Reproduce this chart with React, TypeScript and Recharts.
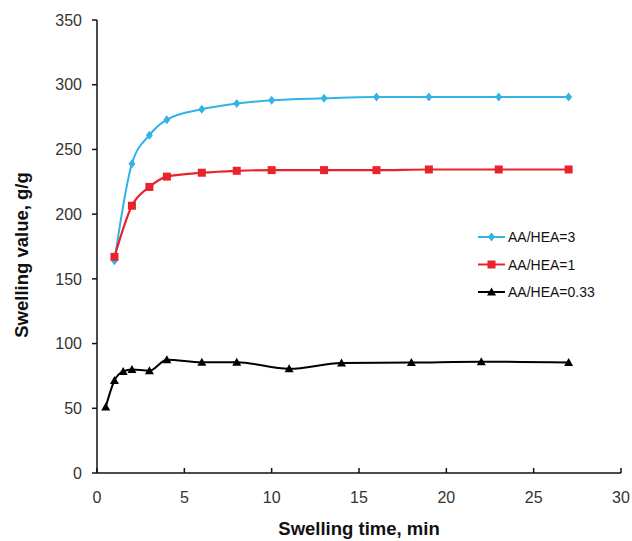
import React from 'react';
import { LineChart, Line, XAxis, YAxis } from 'recharts';

// time points (min) for the two upper series
const timeA = [1, 2, 3, 4, 6, 8, 10, 13, 16, 19, 23, 27];
const ratio3 = [164, 239, 261, 273, 281, 285.5, 288, 289.5, 290.5, 290.5, 290.5, 290.5];
const ratio1 = [167, 206.5, 221, 229, 232, 233.5, 234, 234, 234, 234.5, 234.5, 234.5];

// the 0.33 series was sampled at other times
const timeB = [0.5, 1, 1.5, 2, 3, 4, 6, 8, 11, 14, 18, 22, 27];
const ratio033 = [51, 71.5, 78.5, 80, 79, 87.5, 85.5, 85.5, 80.5, 85, 85.3, 86, 85.3];

const xTicks = [0, 5, 10, 15, 20, 25, 30];
const yTicks = [0, 50, 100, 150, 200, 250, 300, 350];

const seriesNames = ['AA/HEA=3', 'AA/HEA=1', 'AA/HEA=0.33'];

const BLUE = '#31b3e8';
const RED = '#e8232b';
const BLACK = '#000000';
const FONT = '"Liberation Sans", Arial, sans-serif';

const data3 = timeA.map((t, i) => ({ t, v: ratio3[i] }));
const data1 = timeA.map((t, i) => ({ t, v: ratio1[i] }));
const data033 = timeB.map((t, i) => ({ t, v: ratio033[i] }));

const Marker = ({ kind, cx, cy, color }: { kind: string; cx: number; cy: number; color: string }) => {
    if (kind === 'diamond') {
        return <polygon points={`${cx},${cy - 4.5} ${cx + 3.5},${cy} ${cx},${cy + 4.5} ${cx - 3.5},${cy}`} fill={color} />;
    }
    if (kind === 'square') {
        return <rect x={cx - 4} y={cy - 4} width={8} height={8} fill={color} />;
    }
    return <polygon points={`${cx},${cy - 4.5} ${cx + 4.5},${cy + 3.5} ${cx - 4.5},${cy + 3.5}`} fill={color} />;
};

const dotFor = (kind: string, color: string) => (props: any) => (
    <Marker key={`${kind}-${props.index}`} kind={kind} cx={props.cx} cy={props.cy} color={color} />
);

const XTick = ({ x, y, payload }: any) => (
    <g>
        <line x1={x} x2={x} y1={y} y2={y - 5} stroke="#111" strokeWidth={1.5} />
        <text x={x} y={y + 30} textAnchor="middle" fontSize={16} fill="#333" fontFamily={FONT}>
            {payload.value}
        </text>
    </g>
);

const YLabel = () => (
    <text
        transform="translate(28,255) rotate(-90)"
        textAnchor="middle"
        fontSize={18.5}
        fontWeight="bold"
        fill="#111"
        fontFamily={FONT}
    >
        Swelling value, g/g
    </text>
);

const XLabel = () => (
    <text x={359} y={535} textAnchor="middle" fontSize={18.5} fontWeight="bold" fill="#111" fontFamily={FONT}>
        Swelling time, min
    </text>
);

const legendItems = [
    { name: seriesNames[0], color: BLUE, kind: 'diamond' },
    { name: seriesNames[1], color: RED, kind: 'square' },
    { name: seriesNames[2], color: BLACK, kind: 'triangle' },
];

const ChartLegend = () => (
    <svg width={140} height={80} style={{ position: 'absolute', left: 470, top: 228 }}>
        {legendItems.map((it, i) => {
            const y = 9 + i * 27.5;
            return (
                <g key={it.name}>
                    <line x1={8} x2={35} y1={y} y2={y} stroke={it.color} strokeWidth={2} />
                    <Marker kind={it.kind} cx={21.5} cy={y} color={it.color} />
                    <text x={38} y={y + 5} fontSize={14} fill="#111" fontFamily={FONT}>
                        {it.name}
                    </text>
                </g>
            );
        })}
    </svg>
);

export default function App() {
    return (
        <div style={{ position: 'absolute', left: 0, top: 0, width: 632, height: 541, background: '#fff' }}>
            <LineChart width={632} height={541} margin={{ top: 20, right: 11, bottom: 18, left: 0 }}>
                <XAxis
                    dataKey="t"
                    type="number"
                    domain={[0, 30]}
                    ticks={xTicks}
                    allowDataOverflow
                    height={50}
                    tickSize={0}
                    tickMargin={0}
                    tickLine={false}
                    tick={<XTick />}
                    axisLine={{ stroke: '#111', strokeWidth: 1.5 }}
                    label={<XLabel />}
                />
                <YAxis
                    type="number"
                    domain={[0, 350]}
                    ticks={yTicks}
                    width={97}
                    tickSize={5}
                    tickMargin={10}
                    tick={{ fontSize: 16, fill: '#333', fontFamily: FONT }}
                    tickLine={{ stroke: '#111', strokeWidth: 1.5 }}
                    axisLine={{ stroke: '#111', strokeWidth: 1.5 }}
                    label={<YLabel />}
                />
                <Line
                    data={data3}
                    dataKey="v"
                    name={seriesNames[0]}
                    type="monotone"
                    stroke={BLUE}
                    strokeWidth={2}
                    dot={dotFor('diamond', BLUE)}
                    isAnimationActive={false}
                />
                <Line
                    data={data1}
                    dataKey="v"
                    name={seriesNames[1]}
                    type="monotone"
                    stroke={RED}
                    strokeWidth={2.2}
                    dot={dotFor('square', RED)}
                    isAnimationActive={false}
                />
                <Line
                    data={data033}
                    dataKey="v"
                    name={seriesNames[2]}
                    type="monotone"
                    stroke={BLACK}
                    strokeWidth={2}
                    dot={dotFor('triangle', BLACK)}
                    isAnimationActive={false}
                />
            </LineChart>
            <ChartLegend />
        </div>
    );
}
